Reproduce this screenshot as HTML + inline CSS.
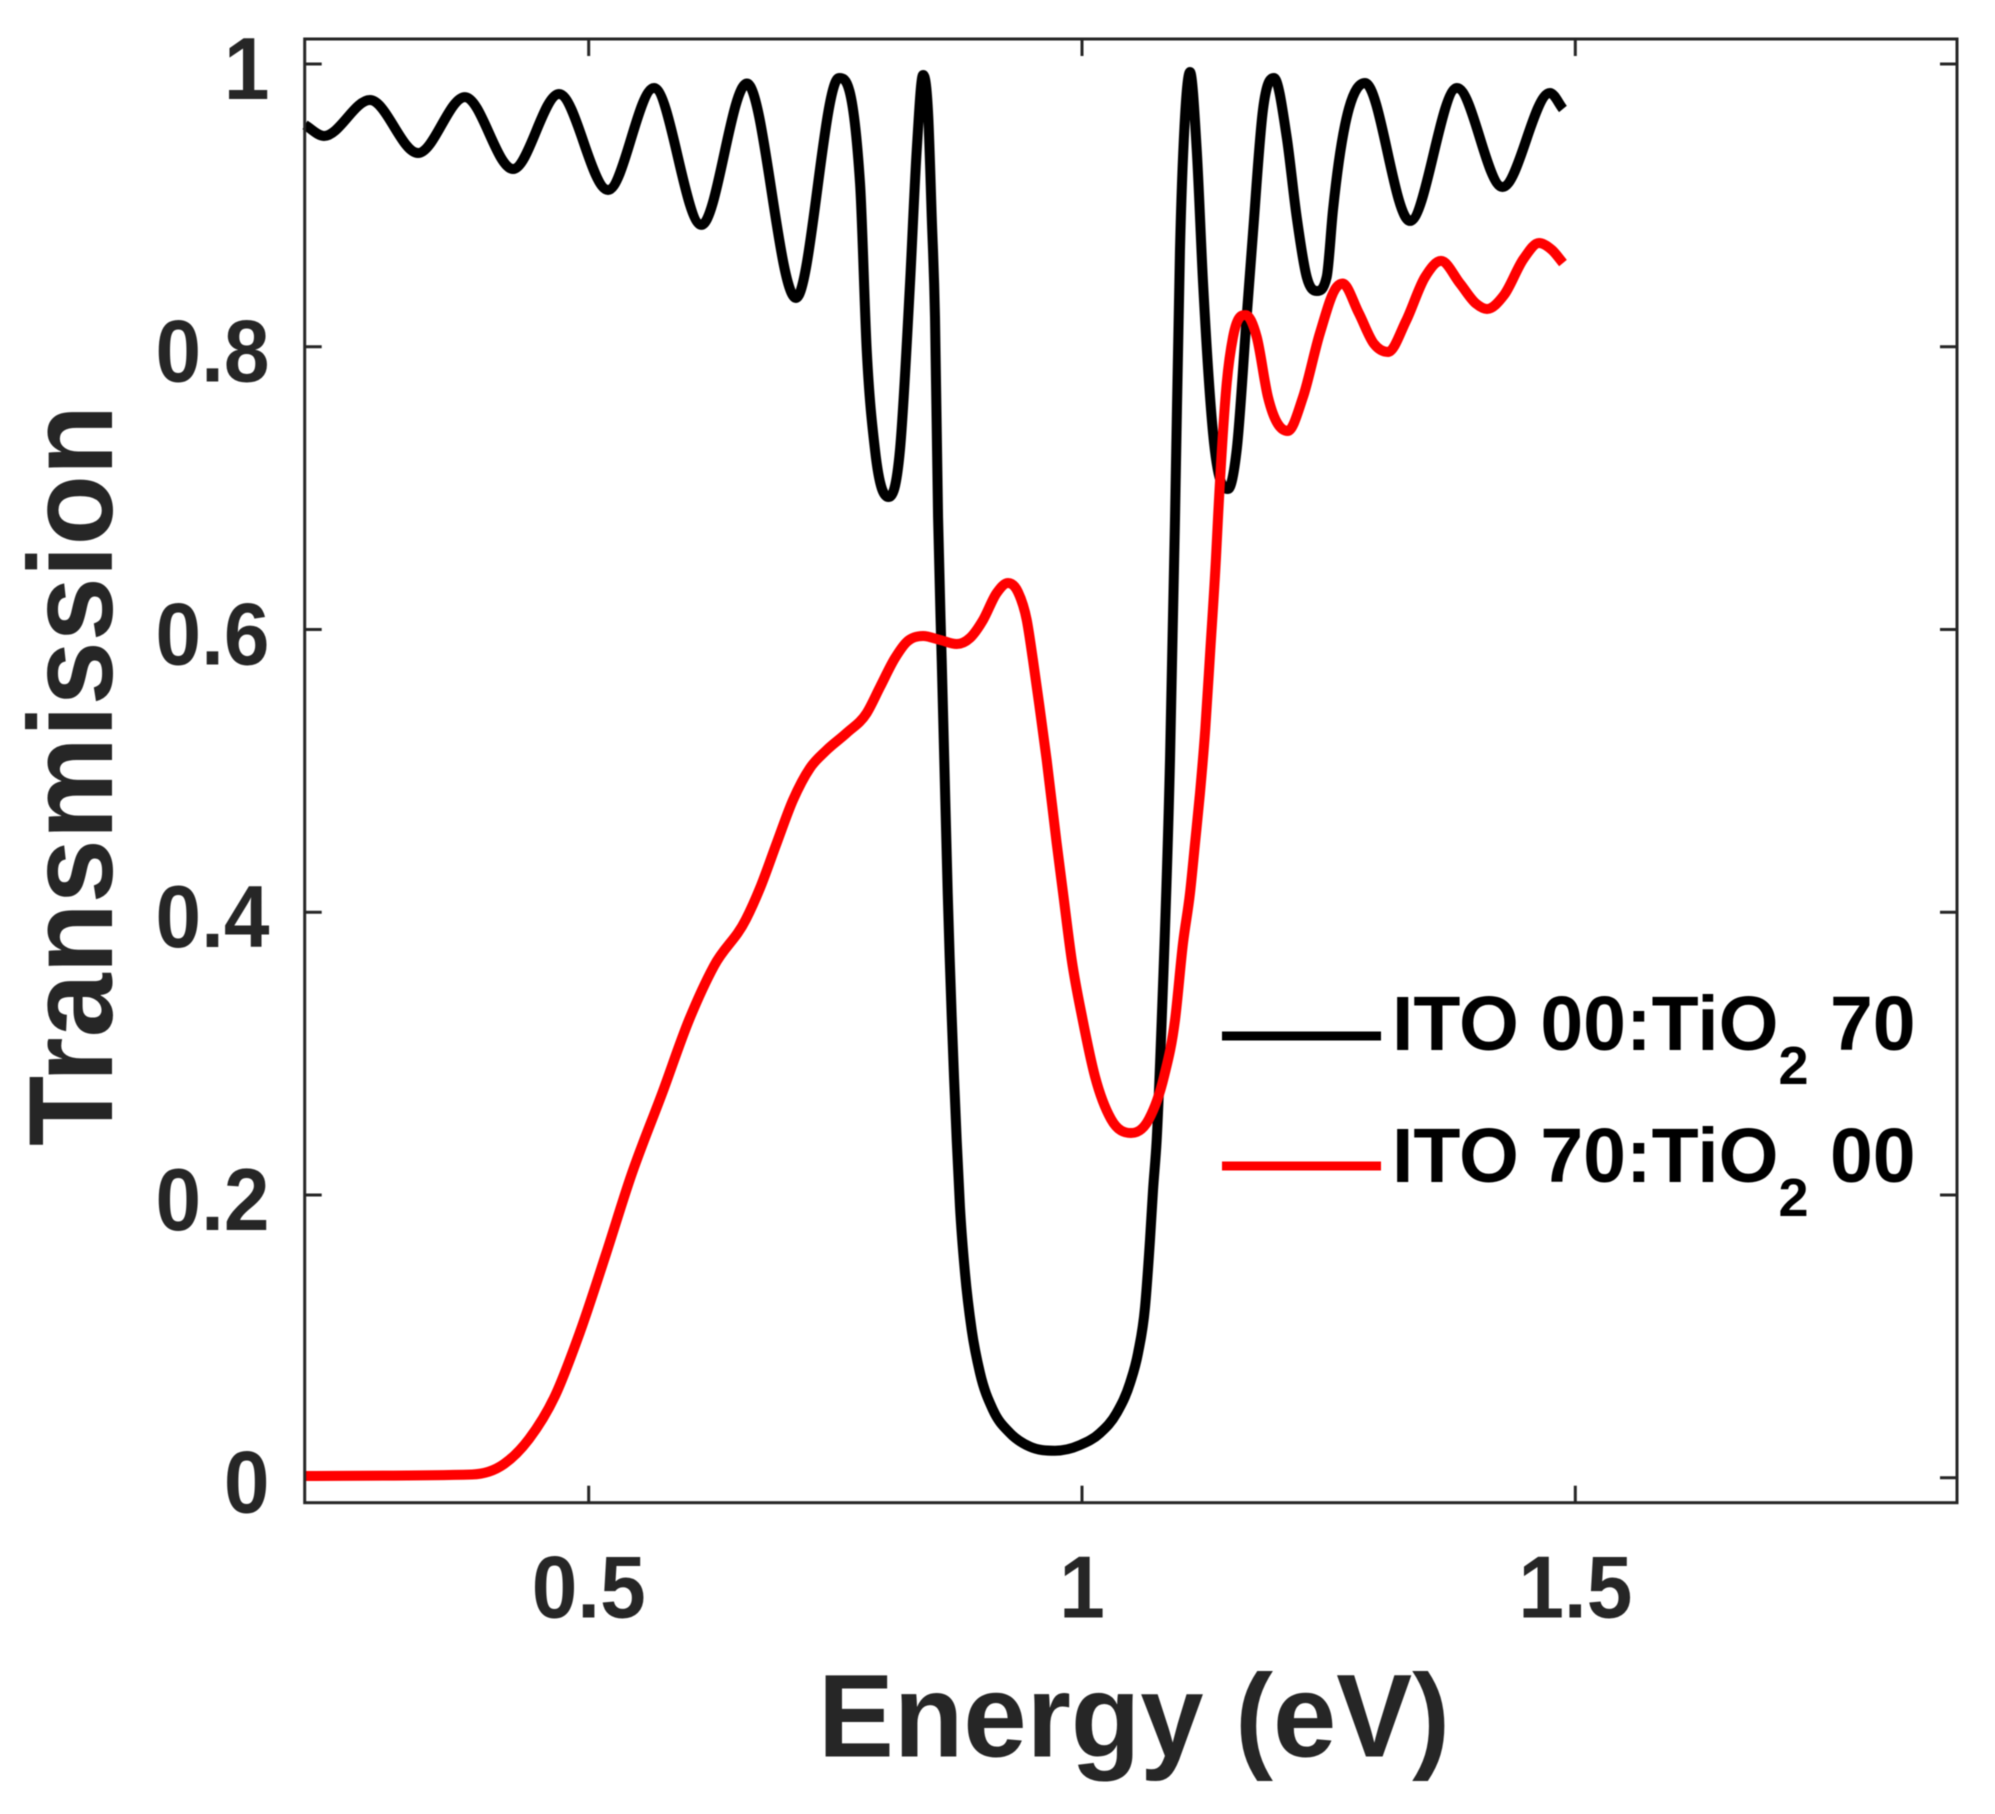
<!DOCTYPE html>
<html lang="en">
<head>
<meta charset="utf-8">
<title>Transmission vs Energy</title>
<style>
html,body{margin:0;padding:0;background:#fff;}
svg{display:block;font-family:"Liberation Sans",Arial,sans-serif;font-weight:bold;filter:blur(0.6px);}
</style>
</head>
<body>
<svg id="chart" xmlns="http://www.w3.org/2000/svg" width="1995" height="1814" viewBox="0 0 1995 1814">
  <rect x="0" y="0" width="1995" height="1814" fill="#fff"/>
  <g id="ticks"></g>
  <g id="labels"></g>
  <g id="series"></g>
  <rect x="304.7" y="39" width="1652.3" height="1463.7" fill="none" stroke="#262626" stroke-width="3"/>
  <text transform="translate(112,1146) rotate(-90)" font-size="120" fill="#262626" textLength="741" lengthAdjust="spacingAndGlyphs">Transmission</text>
  <text x="818" y="1756.5" font-size="118" fill="#262626" textLength="632" lengthAdjust="spacingAndGlyphs">Energy (eV)</text>
  <g>
    <line x1="1222" x2="1381" y1="1036" y2="1036" stroke="#000" stroke-width="9"/>
    <text x="1392" y="1050" font-size="77" fill="#000">ITO 00:TiO<tspan font-size="54" dy="34">2</tspan><tspan dy="-34"> 70</tspan></text>
    <line x1="1222" x2="1381" y1="1166" y2="1166" stroke="#f00" stroke-width="9"/>
    <text x="1392" y="1182" font-size="77" fill="#000">ITO 70:TiO<tspan font-size="54" dy="34">2</tspan><tspan dy="-34"> 00</tspan></text>
  </g>
</svg>
<script>
var xTicks = [0.5, 1, 1.5];
var xTickLabels = ["0.5", "1", "1.5"];
var yTicks = [0, 0.2, 0.4, 0.6, 0.8, 1];
var yTickLabels = ["0", "0.2", "0.4", "0.6", "0.8", "1"];

var energyIto00 = [0.2124,0.2317,0.2783,0.3270,0.3746,0.4233,0.4699,0.5196,0.5662,0.6143,0.6604,0.7101,0.7537,0.7750,0.7818,0.7902,0.8041,0.8155,0.8257,0.8325,0.8389,0.8442,0.8477,0.8510,0.8541,0.8578,0.8604,0.8639,0.8730,0.8763,0.8814,0.8882,0.8966,0.9098,0.9270,0.9473,0.9726,0.9980,1.0183,1.0352,1.0487,1.0568,1.0639,1.0689,1.0720,1.0757,1.0808,1.0892,1.0943,1.0993,1.1044,1.1095,1.1163,1.1227,1.1328,1.1480,1.1568,1.1669,1.1733,1.1834,1.1946,1.2075,1.2176,1.2278,1.2379,1.2480,1.2544,1.2868,1.3324,1.3801,1.4262,1.4743,1.4875];
var transmissionIto00 = [0.9569,0.9491,0.9745,0.9370,0.9766,0.9257,0.9788,0.9109,0.9830,0.8862,0.9862,0.8345,0.9901,0.9158,0.7977,0.7270,0.6937,0.7270,0.8451,0.9392,0.9922,0.9625,0.8918,0.8210,0.6796,0.5784,0.5077,0.4136,0.2389,0.1917,0.1448,0.1045,0.0741,0.0479,0.0316,0.0219,0.0191,0.0231,0.0316,0.0458,0.0670,0.0882,0.1207,0.1681,0.2035,0.2389,0.3238,0.5077,0.6796,0.8684,0.9625,0.9943,0.9392,0.8451,0.7390,0.6994,0.7270,0.8210,0.8804,0.9675,0.9901,0.9483,0.8918,0.8493,0.8394,0.8493,0.8967,0.9866,0.8890,0.9830,0.9130,0.9795,0.9682];

var energyIto70 = [0.2124,0.3817,0.4142,0.4395,0.4658,0.4912,0.5175,0.5429,0.5753,0.6017,0.6270,0.6594,0.6736,0.6906,0.7071,0.7243,0.7412,0.7615,0.7818,0.7953,0.8105,0.8223,0.8389,0.8561,0.8730,0.8865,0.8997,0.9135,0.9250,0.9351,0.9440,0.9503,0.9574,0.9642,0.9743,0.9808,0.9896,1.0007,1.0132,1.0294,1.0497,1.0679,1.0831,1.0943,1.1024,1.1095,1.1146,1.1196,1.1250,1.1300,1.1358,1.1379,1.1467,1.1531,1.1659,1.1771,1.1885,1.2085,1.2240,1.2412,1.2582,1.2641,1.2803,1.2960,1.3102,1.3284,1.3477,1.3639,1.3832,1.3994,1.4105,1.4278,1.4475,1.4632,1.4764,1.4875];
var transmissionIto70 = [0.0012,0.0023,0.0097,0.0274,0.0578,0.1031,0.1582,0.2134,0.2735,0.3238,0.3620,0.3950,0.4170,0.4490,0.4794,0.5020,0.5147,0.5268,0.5409,0.5593,0.5798,0.5911,0.5954,0.5926,0.5897,0.5940,0.6067,0.6258,0.6329,0.6265,0.6067,0.5784,0.5430,0.5077,0.4490,0.4136,0.3662,0.3238,0.2837,0.2537,0.2438,0.2537,0.2837,0.3238,0.3782,0.4136,0.4490,0.4843,0.5300,0.5850,0.6506,0.6796,0.7743,0.8069,0.8224,0.8069,0.7644,0.7404,0.7644,0.8097,0.8423,0.8447,0.8242,0.8020,0.7963,0.8182,0.8493,0.8607,0.8447,0.8305,0.8267,0.8366,0.8621,0.8734,0.8684,0.8592];

var NS = "http://www.w3.org/2000/svg";
var plotLeft = 304.7, plotRight = 1957, plotTop = 39, plotBottom = 1502.7;
var xZero = 588.7 - 0.5 * 986.6, xScale = 986.6;
var yZero = 1477.7, yScale = 1413.7;
var tickLength = 17;

function xAxis(v) { return xZero + v * xScale; }
function yAxis(v) { return yZero - v * yScale; }

function addTick(x1, y1, x2, y2) {
  var tick = document.createElementNS(NS, "line");
  tick.setAttribute("x1", x1);
  tick.setAttribute("y1", y1);
  tick.setAttribute("x2", x2);
  tick.setAttribute("y2", y2);
  tick.setAttribute("stroke", "#262626");
  tick.setAttribute("stroke-width", "3");
  
  
  document.getElementById("ticks").appendChild(tick);
}

function addLabel(str, x, y, anchor) {
  var label = document.createElementNS(NS, "text");
  label.setAttribute("transform", "translate(" + x + "," + y + ") scale(1,1.07)");
  label.setAttribute("text-anchor", anchor);
  label.setAttribute("font-size", "82");
  label.setAttribute("fill", "#262626");
  
  
  label.textContent = str;
  document.getElementById("labels").appendChild(label);
}

xTicks.forEach(function (v, i) {
  var px = xAxis(v);
  addTick(px, plotBottom, px, plotBottom - tickLength);
  addTick(px, plotTop, px, plotTop + tickLength);
  addLabel(xTickLabels[i], px, 1617.5, "middle");
});

yTicks.forEach(function (v, i) {
  var py = yAxis(v);
  addTick(plotLeft, py, plotLeft + tickLength, py);
  addTick(plotRight, py, plotRight - tickLength, py);
  addLabel(yTickLabels[i], 269.5, py + 35, "end");
});

function smoothPath(xs, ys) {
  var n = xs.length, px = [], py = [], i;
  for (i = 0; i < n; i++) { px.push(xAxis(xs[i])); py.push(yAxis(ys[i])); }
  var delta = [], tangents = [];
  for (i = 0; i < n - 1; i++) { delta.push((py[i + 1] - py[i]) / (px[i + 1] - px[i])); }
  tangents.push(delta[0]);
  for (i = 1; i < n - 1; i++) {
    if (delta[i - 1] * delta[i] <= 0) {
      tangents.push(0);
    } else {
      var h0 = px[i] - px[i - 1], h1 = px[i + 1] - px[i];
      var p = (delta[i - 1] * h1 + delta[i] * h0) / (h0 + h1);
      var limit = 3 * Math.min(Math.abs(delta[i - 1]), Math.abs(delta[i]));
      tangents.push((p < 0 ? -1 : 1) * Math.min(Math.abs(p), limit));
    }
  }
  tangents.push(delta[n - 2]);
  var d = "M" + px[0].toFixed(2) + " " + py[0].toFixed(2);
  for (i = 0; i < n - 1; i++) {
    var h = (px[i + 1] - px[i]) / 3;
    d += "C" + (px[i] + h).toFixed(2) + " " + (py[i] + tangents[i] * h).toFixed(2) + " " +
         (px[i + 1] - h).toFixed(2) + " " + (py[i + 1] - tangents[i + 1] * h).toFixed(2) + " " +
         px[i + 1].toFixed(2) + " " + py[i + 1].toFixed(2);
  }
  return d;
}

var blackLine = document.createElementNS(NS, "path");
blackLine.setAttribute("d", smoothPath(energyIto00, transmissionIto00));
blackLine.setAttribute("fill", "none");
blackLine.setAttribute("stroke", "#000");
blackLine.setAttribute("stroke-width", "10");
blackLine.setAttribute("stroke-linejoin", "round");


document.getElementById("series").appendChild(blackLine);

var redLine = document.createElementNS(NS, "path");
redLine.setAttribute("d", smoothPath(energyIto70, transmissionIto70));
redLine.setAttribute("fill", "none");
redLine.setAttribute("stroke", "#f00");
redLine.setAttribute("stroke-width", "10");
redLine.setAttribute("stroke-linejoin", "round");


document.getElementById("series").appendChild(redLine);
</script>
</body>
</html>
